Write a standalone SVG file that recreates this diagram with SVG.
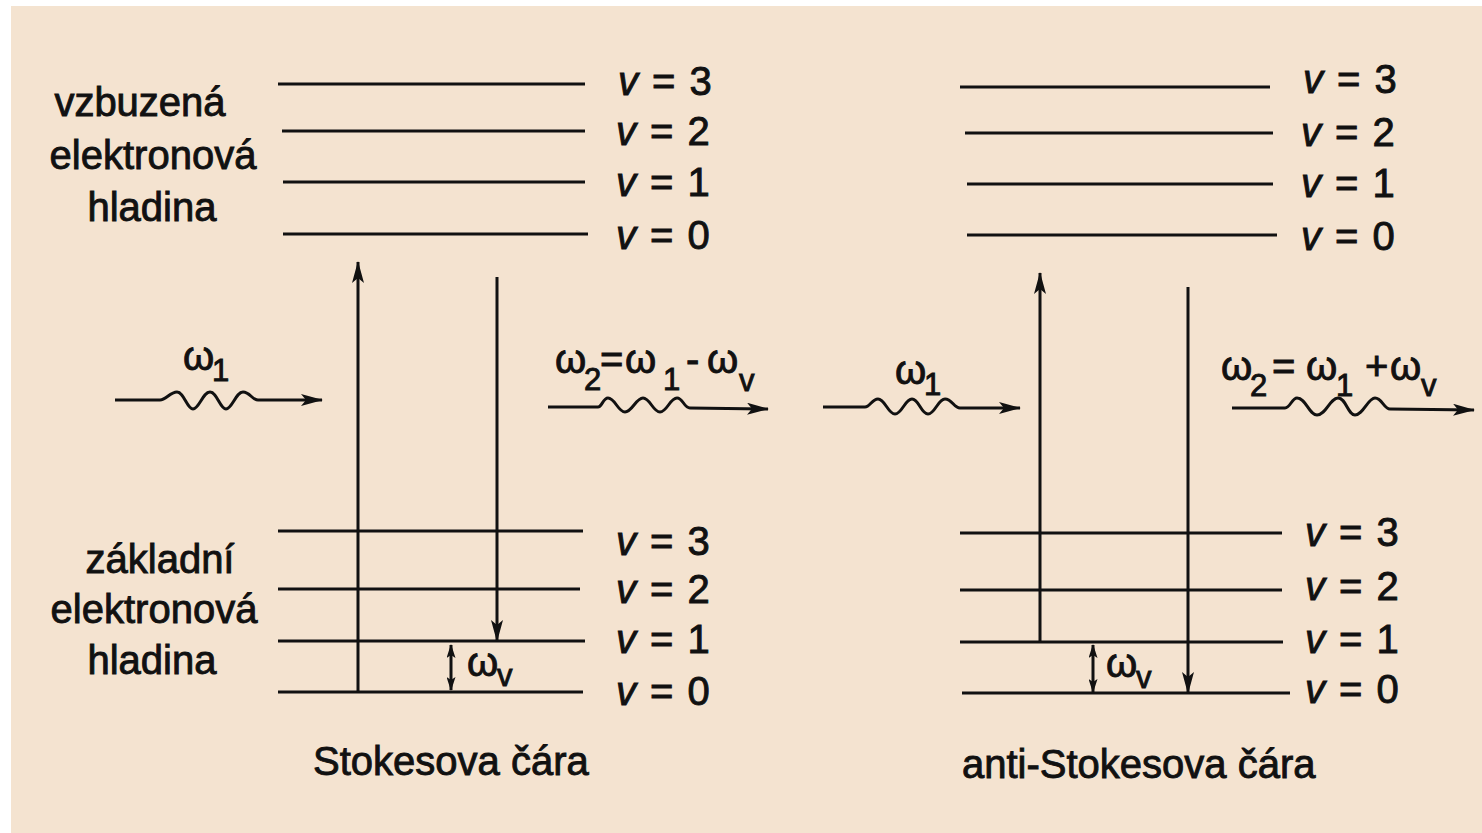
<svg xmlns="http://www.w3.org/2000/svg" width="1482" height="833" viewBox="0 0 1482 833">
<style>
.lvl{stroke:#111;stroke-width:3;fill:none}
.con{stroke:#111;stroke-width:3;fill:none}
.t{font-family:"Liberation Sans",Arial,sans-serif;font-size:40px;fill:#111;stroke:#111;stroke-width:0.9px}
.lab{text-anchor:middle}
.q{word-spacing:3px}
.s{font-size:31px}
.v{font-style:italic}
</style>
<defs>
<marker id="ah" viewBox="0 0 22 12" refX="21" refY="6" markerWidth="22" markerHeight="12" orient="auto" markerUnits="userSpaceOnUse">
<path d="M0,0 L22,6 L0,12 L5,6 Z" fill="#111"/>
</marker>
<marker id="ahs" viewBox="0 0 14 9" refX="13" refY="4.5" markerWidth="14" markerHeight="9" orient="auto-start-reverse" markerUnits="userSpaceOnUse">
<path d="M0,0 L14,4.5 L0,9 L3,4.5 Z" fill="#111"/>
</marker>
</defs>
<rect x="0" y="0" width="1482" height="833" fill="#ffffff"/>
<rect x="11" y="6" width="1471" height="827" fill="#F4E3D0"/>

<!-- left panel -->
<g id="left-excited-label"><text class="t lab" x="140" y="116">vzbuzená</text><text class="t lab" x="153" y="169">elektronová</text><text class="t lab" x="152" y="221">hladina</text></g>
<g id="left-ground-label"><text class="t lab" x="160" y="573">základní</text><text class="t lab" x="154" y="623">elektronová</text><text class="t lab" x="152" y="674">hladina</text></g>

<g id="L-ex-3"><line class="lvl" x1="278" y1="84" x2="585" y2="84"/><text class="t q" x="618" y="95"><tspan class="v">v</tspan> = 3</text></g>
<g id="L-ex-2"><line class="lvl" x1="282" y1="131" x2="585" y2="131"/><text class="t q" x="616" y="145"><tspan class="v">v</tspan> = 2</text></g>
<g id="L-ex-1"><line class="lvl" x1="283" y1="182" x2="585" y2="182"/><text class="t q" x="616" y="196"><tspan class="v">v</tspan> = 1</text></g>
<g id="L-ex-0"><line class="lvl" x1="283" y1="234" x2="588" y2="234"/><text class="t q" x="616" y="249"><tspan class="v">v</tspan> = 0</text></g>

<g id="L-gr-3"><line class="lvl" x1="278" y1="531" x2="583" y2="531"/><text class="t q" x="616" y="555"><tspan class="v">v</tspan> = 3</text></g>
<g id="L-gr-2"><line class="lvl" x1="278" y1="589" x2="580" y2="589"/><text class="t q" x="616" y="603"><tspan class="v">v</tspan> = 2</text></g>
<g id="L-gr-1"><line class="lvl" x1="278" y1="641" x2="585" y2="641"/><text class="t q" x="616" y="653"><tspan class="v">v</tspan> = 1</text></g>
<g id="L-gr-0"><line class="lvl" x1="278" y1="692" x2="583" y2="692"/><text class="t q" x="616" y="705"><tspan class="v">v</tspan> = 0</text></g>

<!-- right panel -->
<g id="R-ex-3"><line class="lvl" x1="960" y1="87" x2="1270" y2="87"/><text class="t q" x="1303" y="93"><tspan class="v">v</tspan> = 3</text></g>
<g id="R-ex-2"><line class="lvl" x1="965" y1="133" x2="1273" y2="133"/><text class="t q" x="1301" y="146"><tspan class="v">v</tspan> = 2</text></g>
<g id="R-ex-1"><line class="lvl" x1="967" y1="184" x2="1273" y2="184"/><text class="t q" x="1301" y="197"><tspan class="v">v</tspan> = 1</text></g>
<g id="R-ex-0"><line class="lvl" x1="967" y1="235" x2="1277" y2="235"/><text class="t q" x="1301" y="250"><tspan class="v">v</tspan> = 0</text></g>

<g id="R-gr-3"><line class="lvl" x1="960" y1="533" x2="1282" y2="533"/><text class="t q" x="1305" y="546"><tspan class="v">v</tspan> = 3</text></g>
<g id="R-gr-2"><line class="lvl" x1="960" y1="590" x2="1282" y2="590"/><text class="t q" x="1305" y="600"><tspan class="v">v</tspan> = 2</text></g>
<g id="R-gr-1"><line class="lvl" x1="960" y1="642" x2="1283" y2="642"/><text class="t q" x="1305" y="653"><tspan class="v">v</tspan> = 1</text></g>
<g id="R-gr-0"><line class="lvl" x1="962" y1="693" x2="1290" y2="693"/><text class="t q" x="1305" y="703"><tspan class="v">v</tspan> = 0</text></g>

<!-- photon labels -->
<g id="lbl-L-w1"><text class="t" x="183" y="370">ω</text><text class="t s" x="212" y="381">1</text></g>
<g id="lbl-L-w2"><text class="t" x="555" y="373">ω</text><text class="t s" x="584" y="390">2</text><text class="t" x="600" y="373">=</text><text class="t" x="625" y="373">ω</text><text class="t s" x="663" y="390">1</text><text class="t" x="686" y="373">-</text><text class="t" x="707" y="373">ω</text><text class="t s" x="739" y="391">v</text></g>
<g id="lbl-R-w1"><text class="t" x="895" y="384">ω</text><text class="t s" x="924" y="395">1</text></g>
<g id="lbl-R-w2"><text class="t" x="1221" y="380">ω</text><text class="t s" x="1250" y="396">2</text><text class="t" x="1272" y="380">=</text><text class="t" x="1306" y="380">ω</text><text class="t s" x="1336" y="396">1</text><text class="t" x="1365" y="380">+</text><text class="t" x="1390" y="380">ω</text><text class="t s" x="1421" y="396">v</text></g>
<g id="lbl-wv"><text class="t" x="467" y="676">ω</text><text class="t s" x="497" y="686">v</text><text class="t" x="1106" y="677">ω</text><text class="t s" x="1136" y="688">v</text></g>

<g id="captions"><text class="t" x="313" y="775">Stokesova čára</text><text class="t" x="962" y="778">anti-Stokesova čára</text></g>

<g id="connectors">
<line class="con" x1="358" y1="692" x2="358" y2="262" marker-end="url(#ah)"/>
<line class="con" x1="497" y1="277" x2="497" y2="641" marker-end="url(#ah)"/>
<line class="con" x1="1040" y1="642" x2="1040" y2="273" marker-end="url(#ah)"/>
<line class="con" x1="1188" y1="287" x2="1188" y2="693" marker-end="url(#ah)"/>
<line class="con" x1="451" y1="645" x2="451" y2="690" marker-start="url(#ahs)" marker-end="url(#ahs)"/>
<line class="con" x1="1093" y1="645" x2="1093" y2="692" marker-start="url(#ahs)" marker-end="url(#ahs)"/>
<path class="con" d="M115,400 H160 C166,400 170,392 177,392 C184,392 187,409 193,409 C199,409 203,392 210,392 C217,392 220,409 226,409 C232,409 236,392 243,392 C250,392 252,400 258,400 H322" marker-end="url(#ah)"/>
<path class="con" d="M548,407 H598 C602,407 603,398 608,398 C615,398 618,412 625,412 C632,412 636,398 643,398 C650,398 653,412 660,412 C667,412 670,398 677,398 C683,398 684,408 690,408 L768,409" marker-end="url(#ah)"/>
<path class="con" d="M823,407 H865 C870,407 872,399 878,399 C885,399 888,414 895,414 C902,414 905,399 912,399 C919,399 921,414 928,414 C935,414 938,399 945,399 C952,399 954,408 960,408 H1020" marker-end="url(#ah)"/>
<path class="con" d="M1232,408 H1285 C1290,408 1292,398 1297,398 C1306,398 1309,415 1317,415 C1326,415 1330,398 1338,398 C1346,398 1348,415 1355,415 C1363,415 1368,398 1375,398 C1382,398 1384,409 1390,409 L1474,410" marker-end="url(#ah)"/>
</g>
</svg>
